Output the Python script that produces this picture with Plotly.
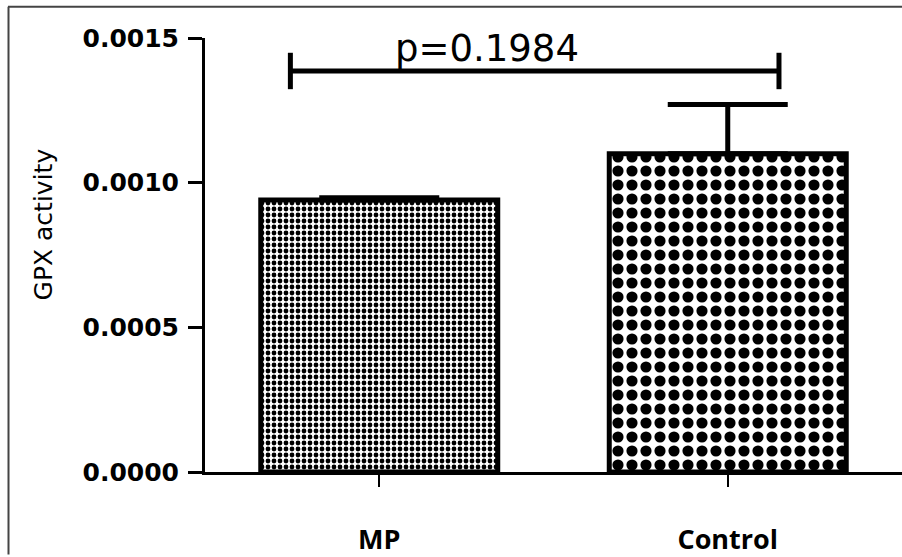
import plotly.graph_objects as go

categories = ["MP", "Control"]
means = [0.00094, 0.00110]
errors_up = [0.000008, 0.00017]
pattern_sizes = [6, 14]
y_tick_vals = [0.0, 0.0005, 0.0010, 0.0015]
y_tick_text = ["0.0000", "0.0005", "0.0010", "0.0015"]
bracket_x = [-0.255, 1.147]
bracket_y = [0.001386, 0.001386]
p_label = "p=0.1984"
p_label_x = 0.308
p_label_y = 0.001465
y_title = "GPX activity"

positions = list(range(len(categories)))

fig = go.Figure()
for i, cat in enumerate(categories):
    fig.add_trace(go.Bar(
        x=[positions[i]], y=[means[i]], name=cat,
        width=0.68,
        marker=dict(
            color="white",
            line=dict(color="black", width=5),
            pattern=dict(shape=".", size=pattern_sizes[i], solidity=0.5,
                         fgcolor="black", bgcolor="white", fillmode="replace"),
        ),
        error_y=dict(type="data", array=[errors_up[i]], arrayminus=[0],
                     symmetric=False, color="black", thickness=5, width=60),
        showlegend=False,
    ))

fig.add_trace(go.Scatter(
    x=bracket_x, y=bracket_y, mode="lines+markers",
    line=dict(color="black", width=5),
    marker=dict(symbol="line-ns-open", size=26, line=dict(color="black", width=5)),
    showlegend=False, cliponaxis=False,
))

fig.add_annotation(x=p_label_x, y=p_label_y, xref="x", yref="y", text=p_label,
                   showarrow=False, font=dict(family="DejaVu Sans", size=37, color="black"),
                   xanchor="center", yanchor="middle")

fig.add_annotation(x=-0.232, y=0.571, xref="paper", yref="paper", text=y_title,
                   textangle=-90, showarrow=False,
                   font=dict(family="DejaVu Sans", size=25, color="black"),
                   xanchor="center", yanchor="middle")

# image frame
fig.add_shape(type="line", xref="paper", yref="paper",
              x0=(8.5 - 205) / 697, x1=(8.5 - 205) / 697, y0=(474 - 557) / 436, y1=(474 - 6.5) / 436,
              line=dict(color="#444444", width=2))
fig.add_shape(type="line", xref="paper", yref="paper",
              x0=(8 - 205) / 697, x1=(902 - 205) / 697, y0=(474 - 6.5) / 436, y1=(474 - 6.5) / 436,
              line=dict(color="#444444", width=2))

fig.update_layout(
    width=902, height=557,
    margin=dict(l=205, r=0, t=38, b=83),
    paper_bgcolor="white", plot_bgcolor="white",
    bargap=0.3,
    xaxis=dict(range=[-0.5, 1.5], tickvals=positions, ticktext=categories,
               showline=True, linecolor="black", linewidth=3,
               ticks="outside", ticklen=12, tickwidth=2, tickcolor="black",
               showgrid=False, zeroline=False, ticklabelstandoff=30,
               tickfont=dict(family="Open Sans", size=27, color="black", weight="bold")),
    yaxis=dict(range=[0, 0.0015], tickvals=y_tick_vals, ticktext=y_tick_text,
               showline=True, linecolor="black", linewidth=3,
               ticks="outside", ticklen=14, tickwidth=3, tickcolor="black",
               showgrid=False, zeroline=False, ticklabelstandoff=4,
               tickfont=dict(family="DejaVu Sans", size=25, color="black", weight="bold")),
)

fig.write_html("out.html")
